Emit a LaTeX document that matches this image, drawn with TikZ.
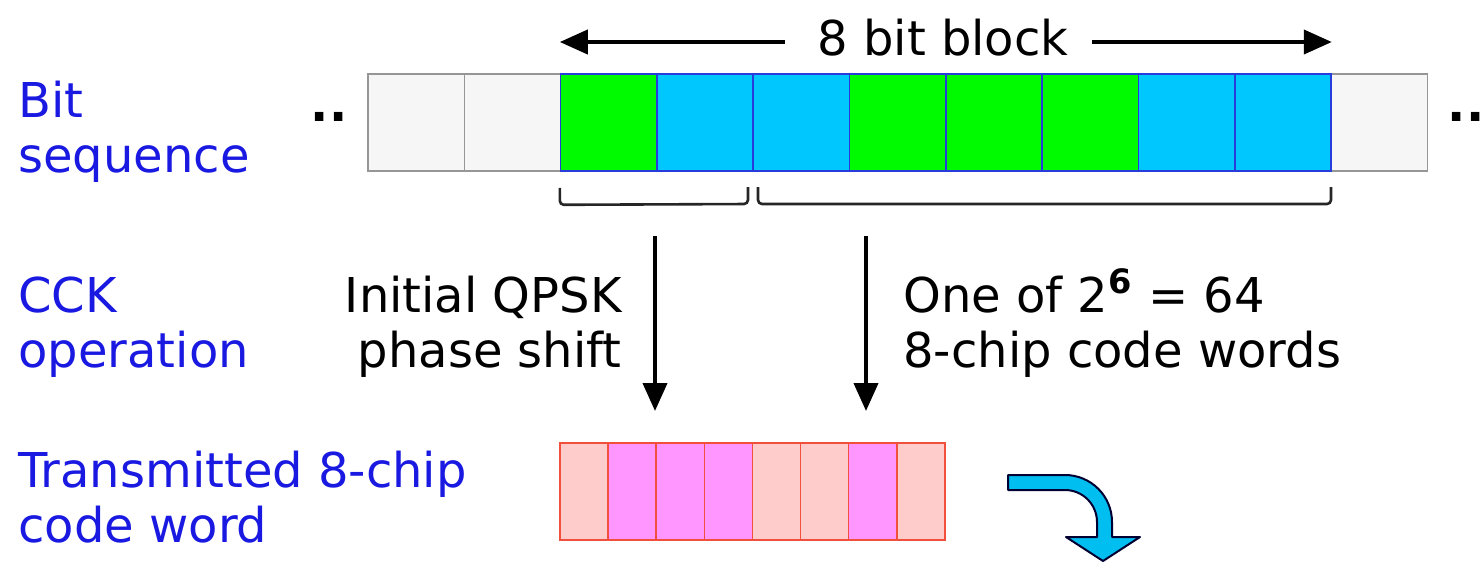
\documentclass[tikz,border=0pt]{standalone}
\usepackage{fontspec}
\setmainfont{DejaVu Sans}
\usetikzlibrary{arrows.meta}
\definecolor{labelblue}{RGB}{25,25,225}
\definecolor{bitgreen}{RGB}{0,250,0}
\definecolor{bitblue}{RGB}{0,200,255}
\definecolor{bitedge}{RGB}{40,60,220}
\definecolor{bitgrey}{RGB}{246,246,246}
\definecolor{greyedge}{RGB}{150,150,150}
\definecolor{chiplight}{RGB}{255,204,204}
\definecolor{chipdark}{RGB}{255,150,255}
\definecolor{chipedge}{RGB}{240,80,60}
\definecolor{turncyan}{RGB}{0,190,240}

\begin{document}
\begin{tikzpicture}[x=0.5pt,y=-0.5pt,>={Triangle[length=14pt,width=12pt]},
  font=\fontsize{24}{27.5}\selectfont,
  bit/.style={shape=rectangle,draw=bitedge,line width=0.8pt,minimum width=48.15pt,minimum height=48.5pt,inner sep=0pt},
  chip/.style={shape=rectangle,draw=chipedge,line width=0.8pt,minimum width=24.05pt,minimum height=48.5pt,inner sep=0pt},
  rowlabel/.style={text=labelblue,align=left,anchor=base west,inner sep=0pt},
  brace/.style={line width=1.3pt,draw=black!85,rounded corners=2pt}]
\useasboundingbox (0,0) rectangle (1484,563);

% row labels (base = last line)
\node (bitlbl) at (18,172) [rowlabel] {Bit\\sequence};
\node (ccklbl) at (18,367) [rowlabel] {CCK\\operation};
\node (txlbl)  at (18,542) [rowlabel] {Transmitted 8-chip\\code word};

% bit sequence
\node  (b1) at  (416.15,122.5) [bit,draw=greyedge,fill=bitgrey] {};
\node  (b2) at  (512.45,122.5) [bit,draw=greyedge,fill=bitgrey] {};
\node (b11) at (1379.15,122.5) [bit,draw=greyedge,fill=bitgrey] {};
\node  (b3) at  (608.75,122.5) [bit,fill=bitgreen] {};
\node  (b4) at  (705.05,122.5) [bit,fill=bitblue] {};
\node  (b5) at  (801.35,122.5) [bit,fill=bitblue] {};
\node  (b6) at  (897.65,122.5) [bit,fill=bitgreen] {};
\node  (b7) at  (993.95,122.5) [bit,fill=bitgreen] {};
\node  (b8) at (1090.25,122.5) [bit,fill=bitgreen] {};
\node  (b9) at (1186.55,122.5) [bit,fill=bitblue] {};
\node (b10) at (1282.85,122.5) [bit,fill=bitblue] {};
\node (dotsL) at (329,121) [anchor=base] {\textbf{..}};
\node (dotsR) at (1466,121) [anchor=base] {\textbf{..}};

% 8 bit block
\node (blk) at (943,55) [anchor=base] {8 bit block};
\coordinate (blkL) at (785,42);
\coordinate (blkR) at (1092,42);
\draw [->,line width=2pt] (blkL) -- (b3.north west |- blkL);
\draw [->,line width=2pt] (blkR) -- (b10.north east |- blkR);

% brackets under the block
\draw [brace] (b3.south west) ++(0,16) -- ++(0,17) -- (748,204) -- (748,187);
\draw [brace] (758,187) -- (758,204) -- (1331,204) -- (1331,187);

% CCK operation
\coordinate (qpskA) at (655,236);
\coordinate (qpskB) at (655,411);
\coordinate (wordA) at (866,236);
\coordinate (wordB) at (866,411);
\draw [->,line width=2pt] (qpskA) -- (qpskB);
\draw [->,line width=2pt] (wordA) -- (wordB);
\node (qpsk) at (622,367) [align=right,anchor=base east,inner sep=0pt] {Initial QPSK\\phase shift};
\node (words) at (903,367) [align=left,anchor=base west,inner sep=0pt] {One of 2\textsuperscript{\textbf{6}} = 64\\8-chip code words};

% transmitted chips
\node (c1) at (584.1,491.5) [chip,fill=chiplight] {};
\node (c2) at (632.2,491.5) [chip,fill=chipdark] {};
\node (c3) at (680.3,491.5) [chip,fill=chipdark] {};
\node (c4) at (728.4,491.5) [chip,fill=chipdark] {};
\node (c5) at (776.5,491.5) [chip,fill=chiplight] {};
\node (c6) at (824.6,491.5) [chip,fill=chiplight] {};
\node (c7) at (872.7,491.5) [chip,fill=chipdark] {};
\node (c8) at (920.8,491.5) [chip,fill=chiplight] {};

% turning block arrow
\draw [fill=turncyan,draw=black!80!blue,line width=1pt,line join=round]
  (1008,475) -- (1065,475) arc[start angle=-90,end angle=0,radius=47]
  -- (1112,537) -- (1140,537) -- (1103,561) -- (1066,537) -- (1097,537)
  -- (1097,522) arc[start angle=0,end angle=-90,radius=32] -- (1008,490) -- cycle;
\end{tikzpicture}
\end{document}
